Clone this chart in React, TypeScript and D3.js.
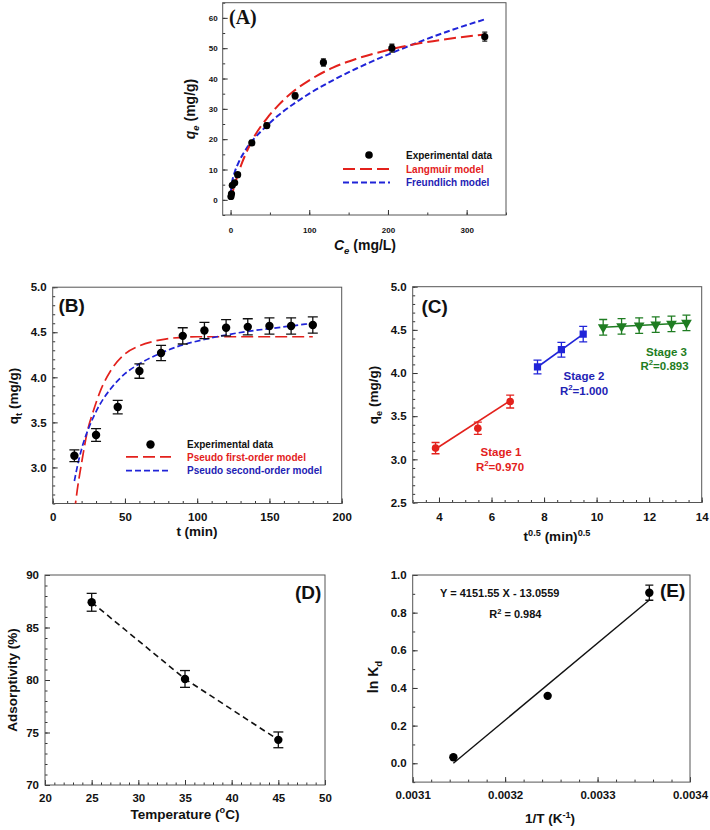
import { useEffect, useRef } from 'react';
import * as d3 from 'd3';

// (A) isotherm
const isoCe = [0.5, 1.2, 2.2, 5.2, 9.0, 27, 46, 82, 118, 205, 323];
const isoQe = [1.1, 2.0, 4.8, 5.6, 8.3, 18.8, 24.5, 34.3, 45.3, 50.0, 53.8];
const isoErr = [0.4, 0.4, 0.5, 0.5, 0.6, 0.8, 0.8, 1.0, 1.2, 1.3, 1.5];
const langC = [0, 3, 6, 10, 15, 20, 30, 46, 60, 80, 100, 130, 160, 200, 240, 280, 323];
const langQ = [0, 2.95, 5.65, 8.9, 12.5, 15.6, 20.8, 26.8, 31.0, 35.8, 39.4, 43.6, 46.5, 49.4, 51.6, 53.2, 54.5];
const freuC = [0.3, 2, 5, 10, 20, 30, 46, 60, 80, 100, 130, 160, 200, 240, 280, 323];
const freuQ = [2.5, 5.9, 8.9, 12.2, 16.8, 20.2, 24.4, 27.7, 31.6, 35.0, 39.4, 43.3, 47.9, 52.1, 55.9, 59.5];

// (B) kinetics
const kinT = [15, 30, 45, 60, 75, 90, 105, 120, 135, 150, 165, 180];
const kinQ = [3.13, 3.36, 3.67, 4.07, 4.27, 4.46, 4.52, 4.55, 4.56, 4.57, 4.57, 4.58];
const kinErr = [0.065, 0.07, 0.075, 0.08, 0.085, 0.09, 0.09, 0.09, 0.09, 0.09, 0.09, 0.09];
const pfoT = [15, 17, 20, 24, 28, 33, 40, 50, 60, 70, 80, 100, 130, 180];
const pfoQ = [2.5, 2.75, 3.05, 3.4, 3.62, 3.85, 4.07, 4.26, 4.35, 4.4, 4.43, 4.45, 4.45, 4.45];
const psoT = [15, 18, 21, 25, 30, 35, 40, 50, 60, 75, 90, 105, 120, 135, 150, 165, 180];
const psoQ = [2.85, 3.08, 3.26, 3.44, 3.62, 3.76, 3.87, 4.04, 4.15, 4.27, 4.36, 4.42, 4.47, 4.51, 4.54, 4.57, 4.6];

// (C) intraparticle diffusion
const s1X = [3.87, 5.48, 6.71];
const s1Y = [3.13, 3.36, 3.67];
const s1Err = [0.065, 0.07, 0.075];
const s2X = [7.75, 8.66, 9.49];
const s2Y = [4.07, 4.27, 4.45];
const s2Err = [0.08, 0.085, 0.09];
const s3X = [10.25, 10.95, 11.62, 12.25, 12.85, 13.42];
const s3Y = [4.53, 4.54, 4.55, 4.56, 4.57, 4.58];
const s3Err = [0.09, 0.09, 0.09, 0.09, 0.09, 0.09];
const s1FitX = [3.87, 6.71];
const s1FitY = [3.12, 3.68];
const s2FitX = [7.75, 9.49];
const s2FitY = [4.07, 4.45];
const s3FitX = [10.25, 13.42];
const s3FitY = [4.53, 4.58];

// (D) temperature
const tempC = [25, 35, 45];
const adsorb = [87.4, 80.1, 74.3];
const adsErr = [0.85, 0.8, 0.75];

// (E) van't Hoff
const invT = [0.003144, 0.003246, 0.003356];
const lnKd = [0.032, 0.358, 0.906];
const lnErr = [0, 0, 0.04];
const vhFitX = [0.003144, 0.003356];
const vhFitY = [0.0, 0.867];

const SANS = '"Liberation Sans", Arial, sans-serif';
const RED = '#e3211c';
const BLUE = '#2024d8';
const BLUE_TXT = '#1e22b4';
const GREEN = '#1f7d22';

type Part = { t: string; s?: 'sub' | 'sup'; i?: boolean };
type Sel = d3.Selection<any, unknown, null, undefined>;

function rich(sel: Sel, parts: Part[], size: number) {
  let shift = 0;
  parts.forEach((p) => {
    const target = p.s === 'sub' ? size * 0.3 : p.s === 'sup' ? -size * 0.4 : 0;
    const ts = sel.append('tspan').attr('dy', target - shift).text(p.t);
    shift = target;
    if (p.s) ts.attr('font-size', size * 0.68);
    if (p.i) ts.attr('font-style', 'italic');
  });
}

function label(g: Sel, x: number, y: number, parts: Part[], size: number, opts: { anchor?: string; rotate?: boolean; fill?: string; family?: string } = {}) {
  const t = g.append('text')
    .attr('font-family', opts.family ?? SANS)
    .attr('font-weight', 700)
    .attr('font-size', size)
    .attr('fill', opts.fill ?? '#111')
    .attr('text-anchor', opts.anchor ?? 'middle');
  if (opts.rotate) t.attr('transform', `translate(${x},${y}) rotate(-90)`);
  else t.attr('x', x).attr('y', y);
  rich(t, parts, size);
  return t;
}

interface PanelOpts {
  id: string;
  left: number; right: number; top: number; bottom: number;
  xDom: [number, number]; yDom: [number, number];
  xMajor: number[]; xMinor: number[]; yMajor: number[]; yMinor: number[];
  xFmt: (d: number) => string; yFmt: (d: number) => string;
  font: number; xPad: number; yPad: number;
}

function panel(svg: Sel, o: PanelOpts) {
  const x = d3.scaleLinear().domain(o.xDom).range([o.left, o.right]);
  const y = d3.scaleLinear().domain(o.yDom).range([o.bottom, o.top]);
  const g = svg.append('g');
  g.append('clipPath').attr('id', o.id).append('rect')
    .attr('x', o.left).attr('y', o.top).attr('width', o.right - o.left).attr('height', o.bottom - o.top);

  const style = (s: Sel) => {
    s.select('.domain').remove();
    s.attr('font-family', SANS).attr('font-size', o.font).attr('font-weight', 700);
    s.selectAll('line').attr('stroke', '#333');
    s.selectAll('text').attr('fill', '#111');
  };
  g.append('g').attr('transform', `translate(0,${o.bottom})`)
    .call(d3.axisBottom(x).tickValues(o.xMinor).tickSize(-2.5).tickFormat(() => ''))
    .call(style);
  g.append('g').attr('transform', `translate(0,${o.bottom})`)
    .call(d3.axisBottom(x).tickValues(o.xMajor).tickSize(-5).tickPadding(o.xPad).tickFormat((d) => o.xFmt(+d)))
    .call(style);
  g.append('g').attr('transform', `translate(${o.left},0)`)
    .call(d3.axisLeft(y).tickValues(o.yMinor).tickSize(-2.5).tickFormat(() => ''))
    .call(style);
  g.append('g').attr('transform', `translate(${o.left},0)`)
    .call(d3.axisLeft(y).tickValues(o.yMajor).tickSize(-5).tickPadding(o.yPad).tickFormat((d) => o.yFmt(+d)))
    .call(style);

  g.append('rect')
    .attr('x', o.left).attr('y', o.top).attr('width', o.right - o.left).attr('height', o.bottom - o.top)
    .attr('fill', 'none').attr('stroke', '#555').attr('stroke-width', 1);

  const plot = g.append('g').attr('clip-path', `url(#${o.id})`);
  return { x, y, g, plot };
}

function errorBars(g: Sel, xs: number[], ys: number[], es: number[], x: d3.ScaleLinear<number, number>, y: d3.ScaleLinear<number, number>, cap: number, color: string) {
  xs.forEach((xv, i) => {
    if (!es[i]) return;
    const cx = x(xv);
    const y1 = y(ys[i] - es[i]);
    const y2 = y(ys[i] + es[i]);
    g.append('line').attr('x1', cx).attr('x2', cx).attr('y1', y1).attr('y2', y2).attr('stroke', color).attr('stroke-width', 1.3);
    [y1, y2].forEach((yy) => g.append('line').attr('x1', cx - cap).attr('x2', cx + cap).attr('y1', yy).attr('y2', yy).attr('stroke', color).attr('stroke-width', 1.3));
  });
}

function pairs(xs: number[], ys: number[]): [number, number][] {
  return xs.map((v, i) => [v, ys[i]]);
}

export default function App() {
  const ref = useRef<SVGSVGElement>(null);

  useEffect(() => {
    if (!ref.current) return;
    const svg = d3.select(ref.current) as unknown as Sel;
    svg.selectAll('*').remove();

    // ---------- (A)
    {
      const { x, y, g, plot } = panel(svg, {
        id: 'clipA', left: 222.7, right: 506, top: 2.7, bottom: 215,
        xDom: [-10, 350], yDom: [-5, 65],
        xMajor: [0, 100, 200, 300], xMinor: d3.range(0, 351, 50),
        yMajor: d3.range(0, 61, 10), yMinor: d3.range(-5, 66, 5),
        xFmt: (d) => String(d), yFmt: (d) => String(d),
        font: 8, xPad: 12, yPad: 5,
      });
      const line = d3.line<[number, number]>().x((d) => x(d[0])).y((d) => y(d[1])).curve(d3.curveMonotoneX);
      plot.append('path').attr('d', line(pairs(freuC, freuQ))).attr('fill', 'none')
        .attr('stroke', BLUE).attr('stroke-width', 2).attr('stroke-dasharray', '6,3');
      plot.append('path').attr('d', line(pairs(langC, langQ))).attr('fill', 'none')
        .attr('stroke', RED).attr('stroke-width', 2).attr('stroke-dasharray', '12,5');
      errorBars(plot, isoCe, isoQe, isoErr, x, y, 2.5, '#222');
      isoCe.forEach((c, i) => plot.append('circle').attr('cx', x(c)).attr('cy', y(isoQe[i])).attr('r', 3.6).attr('fill', '#000'));

      g.append('circle').attr('cx', 369).attr('cy', 155).attr('r', 3.8).attr('fill', '#000');
      g.append('line').attr('x1', 343).attr('x2', 390).attr('y1', 169).attr('y2', 169)
        .attr('stroke', RED).attr('stroke-width', 2).attr('stroke-dasharray', '12,5');
      g.append('line').attr('x1', 343).attr('x2', 390).attr('y1', 182.5).attr('y2', 182.5)
        .attr('stroke', BLUE).attr('stroke-width', 2).attr('stroke-dasharray', '6,3');
      label(g, 406, 158.5, [{ t: 'Experimental data' }], 10, { anchor: 'start' });
      label(g, 406, 172.5, [{ t: 'Langmuir model' }], 10, { anchor: 'start', fill: RED });
      label(g, 406, 186, [{ t: 'Freundlich model' }], 10, { anchor: 'start', fill: BLUE_TXT });

      label(g, 229, 24, [{ t: '(A)' }], 20, { anchor: 'start', family: '"Liberation Serif", "Times New Roman", serif' });
      label(g, 195, 109, [{ t: 'q', i: true }, { t: 'e', s: 'sub', i: true }, { t: ' (mg/g)' }], 14, { rotate: true });
      label(g, 365, 250, [{ t: 'C', i: true }, { t: 'e', s: 'sub', i: true }, { t: ' (mg/L)' }], 14);
    }

    // ---------- (B)
    {
      const { x, y, g, plot } = panel(svg, {
        id: 'clipB', left: 52.7, right: 341.7, top: 287.2, bottom: 503.5,
        xDom: [0, 200], yDom: [2.6, 5.0],
        xMajor: d3.range(0, 201, 50), xMinor: d3.range(0, 201, 10),
        yMajor: [3.0, 3.5, 4.0, 4.5, 5.0], yMinor: d3.range(26, 51, 1).map((v) => v / 10),
        xFmt: (d) => String(d), yFmt: d3.format('.1f'),
        font: 11.5, xPad: 9, yPad: 6,
      });
      const line = d3.line<[number, number]>().x((d) => x(d[0])).y((d) => y(d[1])).curve(d3.curveMonotoneX);
      plot.append('path').attr('d', line(pairs(pfoT, pfoQ))).attr('fill', 'none')
        .attr('stroke', RED).attr('stroke-width', 1.7).attr('stroke-dasharray', '12,5');
      plot.append('path').attr('d', line(pairs(psoT, psoQ))).attr('fill', 'none')
        .attr('stroke', BLUE).attr('stroke-width', 1.7).attr('stroke-dasharray', '6,3');
      errorBars(plot, kinT, kinQ, kinErr, x, y, 5, '#111');
      kinT.forEach((t, i) => plot.append('circle').attr('cx', x(t)).attr('cy', y(kinQ[i])).attr('r', 4.2).attr('fill', '#000'));

      g.append('circle').attr('cx', 150.5).attr('cy', 444.5).attr('r', 4.2).attr('fill', '#000');
      g.append('line').attr('x1', 126).attr('x2', 171).attr('y1', 456.8).attr('y2', 456.8)
        .attr('stroke', RED).attr('stroke-width', 1.7).attr('stroke-dasharray', '12,5');
      g.append('line').attr('x1', 126).attr('x2', 171).attr('y1', 470.7).attr('y2', 470.7)
        .attr('stroke', BLUE).attr('stroke-width', 1.7).attr('stroke-dasharray', '6,3');
      label(g, 187, 448, [{ t: 'Experimental data' }], 10, { anchor: 'start' });
      label(g, 187, 460.5, [{ t: 'Pseudo first-order model' }], 10, { anchor: 'start', fill: RED });
      label(g, 187, 474.3, [{ t: 'Pseudo second-order model' }], 10, { anchor: 'start', fill: BLUE_TXT });

      label(g, 58.5, 312, [{ t: '(B)' }], 19, { anchor: 'start' });
      label(g, 18, 396, [{ t: 'q' }, { t: 't', s: 'sub' }, { t: ' (mg/g)' }], 13.5, { rotate: true });
      label(g, 197, 536, [{ t: 't (min)' }], 13.5);
    }

    // ---------- (C)
    {
      const { x, y, g, plot } = panel(svg, {
        id: 'clipC', left: 412.7, right: 701.7, top: 286.7, bottom: 502.5,
        xDom: [3, 14], yDom: [2.5, 5.0],
        xMajor: d3.range(4, 15, 2), xMinor: d3.range(6, 29, 1).map((v) => v / 2),
        yMajor: [2.5, 3.0, 3.5, 4.0, 4.5, 5.0], yMinor: d3.range(25, 51, 1).map((v) => v / 10),
        xFmt: (d) => String(d), yFmt: d3.format('.1f'),
        font: 11.5, xPad: 10, yPad: 6,
      });
      const line = d3.line<[number, number]>().x((d) => x(d[0])).y((d) => y(d[1]));
      plot.append('path').attr('d', line(pairs(s1FitX, s1FitY))).attr('fill', 'none').attr('stroke', RED).attr('stroke-width', 1.6);
      plot.append('path').attr('d', line(pairs(s2FitX, s2FitY))).attr('fill', 'none').attr('stroke', BLUE).attr('stroke-width', 1.6);
      plot.append('path').attr('d', line(pairs(s3FitX, s3FitY))).attr('fill', 'none').attr('stroke', GREEN).attr('stroke-width', 1.6);

      errorBars(plot, s1X, s1Y, s1Err, x, y, 4, RED);
      errorBars(plot, s2X, s2Y, s2Err, x, y, 4, BLUE);
      errorBars(plot, s3X, s3Y, s3Err, x, y, 4, GREEN);
      s1X.forEach((v, i) => plot.append('circle').attr('cx', x(v)).attr('cy', y(s1Y[i])).attr('r', 3.8).attr('fill', RED));
      const sq = d3.symbol().type(d3.symbolSquare).size(52);
      s2X.forEach((v, i) => plot.append('path').attr('d', sq()).attr('transform', `translate(${x(v)},${y(s2Y[i])})`).attr('fill', BLUE));
      const tri = d3.symbol().type(d3.symbolTriangle).size(50);
      s3X.forEach((v, i) => plot.append('path').attr('d', tri()).attr('transform', `translate(${x(v)},${y(s3Y[i])}) rotate(180)`).attr('fill', GREEN));

      label(g, 501, 456, [{ t: 'Stage 1' }], 11.5, { fill: RED });
      label(g, 500, 470.5, [{ t: 'R' }, { t: '2', s: 'sup' }, { t: '=0.970' }], 11.5, { fill: RED });
      label(g, 584, 379.5, [{ t: 'Stage 2' }], 11.5, { fill: BLUE_TXT });
      label(g, 584, 395, [{ t: 'R' }, { t: '2', s: 'sup' }, { t: '=1.000' }], 11.5, { fill: BLUE_TXT });
      label(g, 666.5, 356, [{ t: 'Stage 3' }], 11.5, { fill: GREEN });
      label(g, 664.5, 369.5, [{ t: 'R' }, { t: '2', s: 'sup' }, { t: '=0.893' }], 11.5, { fill: GREEN });

      label(g, 421.5, 313, [{ t: '(C)' }], 19, { anchor: 'start' });
      label(g, 378, 395, [{ t: 'q' }, { t: 'e', s: 'sub' }, { t: ' (mg/g)' }], 13.5, { rotate: true });
      label(g, 557, 541, [{ t: 't' }, { t: '0.5', s: 'sup' }, { t: ' (min)' }, { t: '0.5', s: 'sup' }], 13.5);
    }

    // ---------- (D)
    {
      const { x, y, g, plot } = panel(svg, {
        id: 'clipD', left: 45, right: 325, top: 575, bottom: 785,
        xDom: [20, 50], yDom: [70, 90],
        xMajor: d3.range(20, 51, 5), xMinor: d3.range(20, 51, 1),
        yMajor: d3.range(70, 91, 5), yMinor: d3.range(70, 91, 1),
        xFmt: (d) => String(d), yFmt: (d) => String(d),
        font: 11.5, xPad: 9, yPad: 6,
      });
      const line = d3.line<[number, number]>().x((d) => x(d[0])).y((d) => y(d[1]));
      plot.append('path').attr('d', line(pairs(tempC, adsorb))).attr('fill', 'none')
        .attr('stroke', '#111').attr('stroke-width', 1.6).attr('stroke-dasharray', '6,4');
      errorBars(plot, tempC, adsorb, adsErr, x, y, 5, '#111');
      tempC.forEach((t, i) => plot.append('circle').attr('cx', x(t)).attr('cy', y(adsorb[i])).attr('r', 4.2).attr('fill', '#000'));

      label(g, 295, 599, [{ t: '(D)' }], 19, { anchor: 'start' });
      label(g, 16.5, 680, [{ t: 'Adsorptivity (%)' }], 13.5, { rotate: true });
      label(g, 185, 818.5, [{ t: 'Temperature (' }, { t: 'o', s: 'sup' }, { t: 'C)' }], 13.5);
    }

    // ---------- (E)
    {
      const { x, y, g, plot } = panel(svg, {
        id: 'clipE', left: 412.7, right: 690, top: 575, bottom: 782.1,
        xDom: [0.0031, 0.0034], yDom: [-0.1, 1.0],
        xMajor: [0.0031, 0.0032, 0.0033, 0.0034], xMinor: d3.range(0, 16, 1).map((v) => 0.0031 + v * 0.00002),
        yMajor: d3.range(0, 6, 1).map((v) => v * 0.2), yMinor: d3.range(-1, 11, 1).map((v) => v / 10),
        xFmt: d3.format('.4f'), yFmt: d3.format('.1f'),
        font: 11.5, xPad: 8.5, yPad: 6,
      });
      const line = d3.line<[number, number]>().x((d) => x(d[0])).y((d) => y(d[1]));
      plot.append('path').attr('d', line(pairs(vhFitX, vhFitY))).attr('fill', 'none')
        .attr('stroke', '#111').attr('stroke-width', 1.4);
      errorBars(plot, invT, lnKd, lnErr, x, y, 4, '#111');
      invT.forEach((t, i) => plot.append('circle').attr('cx', x(t)).attr('cy', y(lnKd[i])).attr('r', 4.2).attr('fill', '#000'));

      label(g, 440, 597, [{ t: 'Y = 4151.55 X - 13.0559' }], 11, { anchor: 'start' });
      label(g, 489.3, 618, [{ t: 'R' }, { t: '2', s: 'sup' }, { t: ' = 0.984' }], 11, { anchor: 'start' });
      label(g, 660, 597, [{ t: '(E)' }], 19, { anchor: 'start' });
      label(g, 378, 677, [{ t: 'ln K' }, { t: 'd', s: 'sub' }], 14, { rotate: true });
      label(g, 550, 823, [{ t: '1/T (K' }, { t: '-1', s: 'sup' }, { t: ')' }], 13.5);
    }
  }, []);

  return (
    <svg
      ref={ref}
      width={710}
      height={830}
      style={{ position: 'absolute', left: 0, top: 0, background: '#fff' }}
    />
  );
}
